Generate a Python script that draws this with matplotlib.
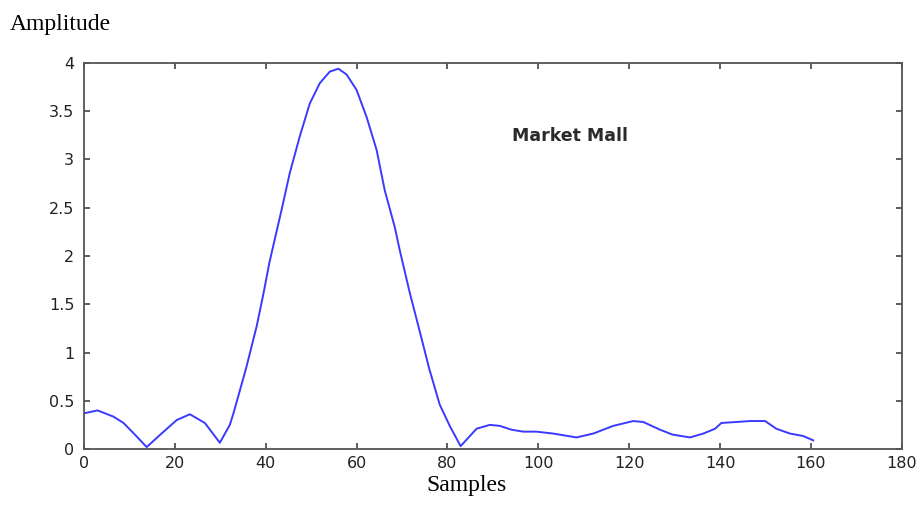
import matplotlib
matplotlib.use("Agg")
import matplotlib.pyplot as plt
from matplotlib.ticker import FuncFormatter

# Signal amplitude versus sample index
samples = [0, 3, 6.5, 8.7, 11.6, 13.8, 16.7, 20.4, 23.3, 26.6, 29.9, 32.1, 32.9,
           35.7, 38.0, 39.5, 40.8, 43.5, 45.3, 47.5, 49.7, 51.9, 54.1, 56.0,
           57.8, 60.0, 62.2, 64.4, 66.2, 68.4, 69.5, 71.7, 74.0, 76.0, 78.3,
           80.5, 82.9, 86.4, 89.3, 91.5, 94.1, 96.7, 99.6, 103.3, 108.4, 112.1,
           116.5, 120.9, 123.1, 126.8, 129.5, 133.4, 136.3, 138.9, 140.3, 143.6,
           146.6, 149.9, 152.4, 155.4, 158.3, 160.5]
amplitude = [0.37, 0.40, 0.335, 0.27, 0.13, 0.02, 0.145, 0.30, 0.36, 0.27, 0.065,
             0.25, 0.37, 0.84, 1.27, 1.61, 1.93, 2.48, 2.86, 3.24, 3.58, 3.79,
             3.91, 3.94, 3.88, 3.72, 3.44, 3.10, 2.68, 2.30, 2.06, 1.62, 1.20,
             0.83, 0.46, 0.24, 0.03, 0.21, 0.25, 0.24, 0.20, 0.18, 0.18, 0.16,
             0.12, 0.16, 0.24, 0.29, 0.28, 0.20, 0.15, 0.12, 0.16, 0.21, 0.27,
             0.28, 0.29, 0.29, 0.21, 0.16, 0.135, 0.09]

x_ticks = [0, 20, 40, 60, 80, 100, 120, 140, 160, 180]
y_ticks = [0, 0.5, 1, 1.5, 2, 2.5, 3, 3.5, 4]

fig = plt.figure(figsize=(9.23, 5.08), dpi=100)
ax = fig.add_axes([0.091, 0.1161, 0.886, 0.760])

ax.plot(samples, amplitude, color="#3a3aff", lw=1.4)

ax.set_xlim(0, 180)
ax.set_ylim(0, 4)
ax.set_xticks(x_ticks)
ax.set_yticks(y_ticks)
ax.yaxis.set_major_formatter(FuncFormatter(lambda v, p: f"{v:g}"))

for s in ax.spines.values():
    s.set_color("#555555")
    s.set_linewidth(1.3)
ax.tick_params(direction="in", length=4, width=1.2, color="#444444",
               top=True, right=True, labelsize=11.5, labelcolor="#222222")
ax.tick_params(axis="x", pad=5)
ax.tick_params(axis="y", pad=7)
for lab in ax.get_xticklabels() + ax.get_yticklabels():
    lab.set_family("DejaVu Sans")

ax.text(107, 3.24, "Market Mall", ha="center", va="center",
        fontsize=12.5, fontweight="bold", color="#2a2a2a", family="DejaVu Sans")

fig.text(10 / 923, 1 - 30 / 508, "Amplitude", ha="left", va="baseline",
         fontsize=17, family="Liberation Serif", color="black")
fig.text(466 / 923, 1 - 491 / 508, "Samples", ha="center", va="baseline",
         fontsize=17, family="Liberation Serif", color="black")

fig.savefig("out.png", dpi=100)
